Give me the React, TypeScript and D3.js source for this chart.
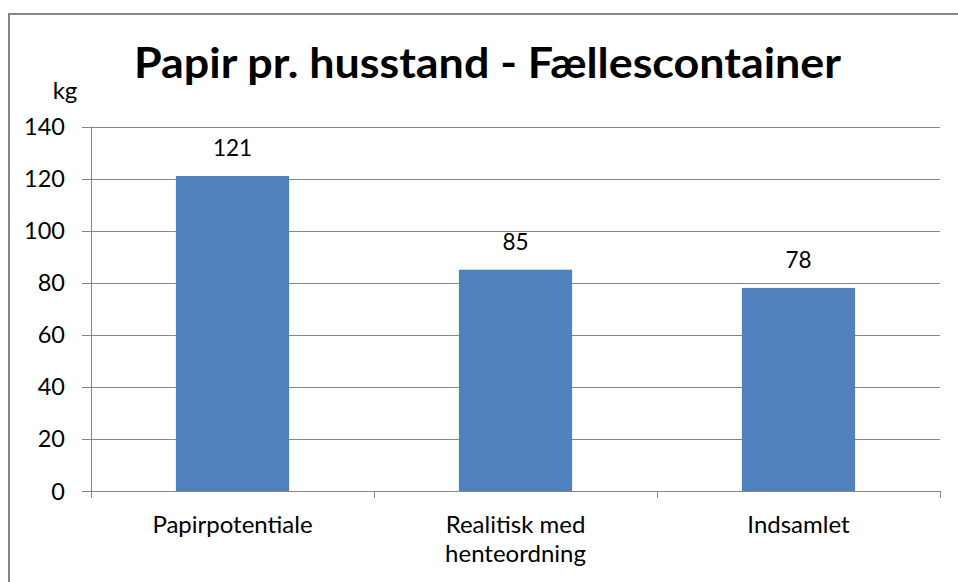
import React from "react";
import * as d3 from "d3";

const categories: string[][] = [["Papirpotentiale"], ["Realitisk med", "henteordning"], ["Indsamlet"]];
const values: number[] = [121, 85, 78];
const yTicks: number[] = [0, 20, 40, 60, 80, 100, 120, 140];
const title = "Papir pr. husstand - Fællescontainer";
const yUnit = "kg";

const W = 958;
const H = 582;
const FONT = "Lato, 'Open Sans', sans-serif";

export default function App() {
  const left = 91, right = 940, top = 126.5, bottom = 491;
  const keys = categories.map((c) => c.join(" "));
  const x = d3.scaleBand<string>().domain(keys).range([left, right]).padding(0);
  const y = d3.scaleLinear().domain([0, 140]).range([bottom, top]);
  const barW = x.bandwidth() * 0.4;
  const grid = "#868686";

  return (
    <svg width={W} height={H} style={{ position: "fixed", left: 0, top: 0, background: "#fff" }} fontFamily={FONT}>
      <rect x={0} y={0} width={W} height={H} fill="#fff" />
      <rect x={9} y={14} width={W + 20} height={H + 20} fill="#fff" stroke="#868686" strokeWidth={2} />
      <text x={487.5} y={78} textAnchor="middle" fontWeight="bold" fontSize={42.5} textLength={707} lengthAdjust="spacingAndGlyphs" fill="#000">{title}</text>
      <text x={65} y={99} textAnchor="middle" fontSize={24} fill="#000">{yUnit}</text>
      {yTicks.map((t) => (
        <g key={t}>
          <line x1={left - 9} x2={right} y1={Math.round(y(t)) + 0.5} y2={Math.round(y(t)) + 0.5} stroke={grid} strokeWidth={1} />
          <text x={65} y={y(t) + 8.5} textAnchor="end" fontSize={23.5} fill="#000">{t}</text>
        </g>
      ))}
      <line x1={left + 0.5} x2={left + 0.5} y1={top} y2={bottom + 7} stroke={grid} strokeWidth={1} />
      {keys.map((k, i) => (
        <line key={"t" + i} x1={Math.round((x(k) as number) + x.bandwidth()) + 0.5} x2={Math.round((x(k) as number) + x.bandwidth()) + 0.5} y1={bottom} y2={bottom + 7} stroke={grid} strokeWidth={1} />
      ))}
      {keys.map((k, i) => {
        const cx = (x(k) as number) + x.bandwidth() / 2;
        return (
          <g key={k}>
            <rect x={cx - barW / 2} y={y(values[i])} width={barW} height={bottom - y(values[i])} fill="#4F81BD" />
            <text x={cx} y={y(values[i]) - 20} textAnchor="middle" fontSize={22.5} fill="#000">{values[i]}</text>
            {categories[i].map((line, j) => (
              <text key={j} x={cx} y={533 + j * 29} textAnchor="middle" fontSize={24} fill="#000">{line}</text>
            ))}
          </g>
        );
      })}
    </svg>
  );
}
